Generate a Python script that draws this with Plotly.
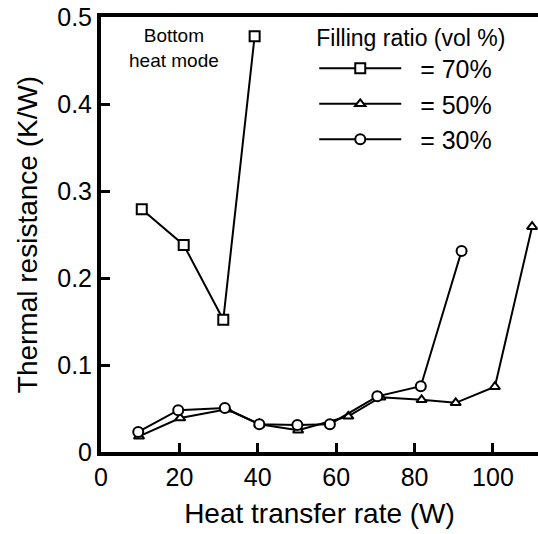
import plotly.graph_objects as go

# Heat transfer rate (W) and thermal resistance (K/W) for each filling ratio
x_70 = [10.4, 21.1, 31.2, 39.2]
y_70 = [0.279, 0.238, 0.152, 0.478]

x_50 = [9.7, 20.2, 32.1, 40.4, 50.3, 63.1, 71.3, 81.8, 90.5, 100.5, 110.0]
y_50 = [0.018, 0.039, 0.049, 0.032, 0.025, 0.041, 0.063, 0.060, 0.0565, 0.075, 0.259]

x_30 = [9.5, 19.7, 31.6, 40.4, 50.1, 58.4, 70.5, 81.6, 92.0]
y_30 = [0.023, 0.048, 0.0505, 0.032, 0.031, 0.032, 0.064, 0.0756, 0.231]

series_names = ["= 70%", "= 50%", "= 30%"]
x_ticks = [0, 20, 40, 60, 80, 100]
y_ticks = [0, 0.1, 0.2, 0.3, 0.4, 0.5]

FONT = "Liberation Sans, Arial, sans-serif"
PAD = "\u00a0\u00a0"

fig = go.Figure()
for xs, ys, name, sym, size in [
    (x_70, y_70, series_names[0], "square", 10),
    (x_50, y_50, series_names[1], "triangle-up", 9),
    (x_30, y_30, series_names[2], "circle", 10),
]:
    fig.add_trace(go.Scatter(
        x=xs, y=ys, name=PAD + name, mode="lines+markers",
        line=dict(color="black", width=2),
        marker=dict(symbol=sym, size=size, color="white",
                    line=dict(color="black", width=2)),
    ))

fig.add_annotation(
    x=18.6, y=0.464, xref="x", yref="y", text="Bottom<br>heat mode",
    showarrow=False, font=dict(family=FONT, size=19, color="black"),
)

axis_common = dict(
    showline=True, linecolor="black", linewidth=4,
    ticks="inside", ticklen=9, tickwidth=3, tickcolor="black",
    showgrid=False, zeroline=False,
    tickfont=dict(family=FONT, size=25, color="black"),
)

fig.update_xaxes(
    range=[0, 111.5], tickvals=x_ticks, mirror=True,
    title=dict(text="Heat transfer rate (W)", font=dict(family=FONT, size=28, color="black"), standoff=14),
    **axis_common,
)
fig.update_yaxes(
    range=[0, 0.5], tickvals=y_ticks,
    title=dict(text="Thermal resistance (K/W)", font=dict(family=FONT, size=28, color="black"), standoff=12),
    **axis_common,
)

fig.update_layout(
    width=538, height=534,
    margin=dict(l=101, r=0, t=17, b=82),
    paper_bgcolor="white", plot_bgcolor="white",
    showlegend=True,
    legend=dict(
        x=0.488, y=1.003, xanchor="left", yanchor="top",
        bgcolor="rgba(0,0,0,0)", borderwidth=0,
        title=dict(text="Filling ratio (vol %)", font=dict(family=FONT, size=23, color="black")),
        font=dict(family=FONT, size=25, color="black"),
        itemwidth=82,
    ),
)

fig.write_html(
    "out.html",
    config={"displayModeBar": False},
    post_script="document.body.style.margin='0';document.body.style.overflow='hidden';",
)
